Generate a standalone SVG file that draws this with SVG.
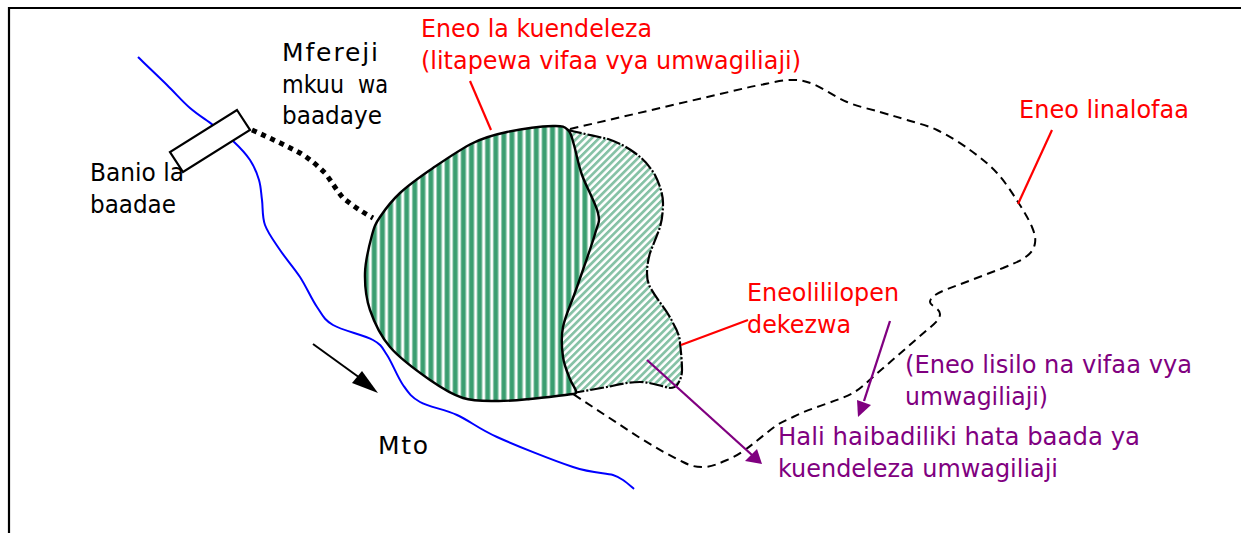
<svg xmlns="http://www.w3.org/2000/svg" width="1241" height="533" viewBox="0 0 1241 533">
<style>
text{font-family:"DejaVu Sans","Noto Sans",sans-serif;font-size:25px}
.r{fill:#ff0000}.p{fill:#800080}.k{fill:#000}
.rl{stroke:#ff0000;stroke-width:2.2;fill:none}
.pl{stroke:#800080;stroke-width:2.3;fill:none}
</style>
<defs>
<pattern id="vs" patternUnits="userSpaceOnUse" width="8.1" height="10" x="371.3">
<rect width="8.1" height="10" fill="#fff"/>
<rect width="6" height="10" fill="#9fd0b8"/>
<rect x="1" width="4" height="10" fill="#3a9e70"/>
</pattern>
<pattern id="ds" patternUnits="userSpaceOnUse" width="5.2" height="5.2" patternTransform="rotate(-45)">
<rect width="5.2" height="5.2" fill="#fff"/>
<rect width="5.2" height="2.7" fill="#86c2a6"/>
</pattern>
</defs>
<rect width="1241" height="533" fill="#fff"/>
<path id="frame" d="M9 533V8H1241" fill="none" stroke="#000" stroke-width="2.2"/>
<g id="river"><path d="M138 57C143 62 158.3 76.5 167 85C175.7 93.5 182.3 101.3 190 108C197.7 114.7 205.8 119.5 213 125C220.2 130.5 226.8 135.2 233 141C239.2 146.8 245.7 153.5 250 160C254.3 166.5 257 173.3 259 180C261 186.7 261 192.5 262 200C263 207.5 262 216.7 265 225C268 233.3 274.2 241.3 280 250C285.8 258.7 293.8 267.5 300 277C306.2 286.5 311.5 299 317 307C322.5 315 323.7 319.5 333 325C342.3 330.5 364 335 373 340C382 345 382 347.5 387 355C392 362.5 397.5 377.2 403 385C408.5 392.8 411 397 420 402C429 407 444.2 409.2 457 415C469.8 420.8 477.7 428.3 497 437C516.3 445.7 553.7 460.7 573 467C592.3 473.3 604.7 472.8 613 475C616.5 476 619.5 477.7 623 480C626.5 482.3 630 485.5 634 489" fill="none" stroke="#0000ff" stroke-width="2"/></g>
<g id="dam"><polygon points="237,110 250,130 183,172 170,152" fill="#fff" stroke="#000" stroke-width="2.2"/></g>
<g id="proposed-area"><path d="M568 130C580 133 595 136 608 139C620 143 628 148 635 153C645 160 650 167 655 175C660 185 663 195 663 203C663 212 662 220 660 227C657 236 653 245 650 253C648 260 647 267 647 273C647 279 648 283 650 287C657 300 667 310 673 323C677 330 680 337 680 343C681 352 682 362 682 370C682 376 680 381 677 385C675 388 672 388 670 388C660 386 650 382 640 382C628 382 617 385 607 387L573 393L550 345L550 200Z" fill="url(#ds)"/>
<path d="M568 130C580 133 595 136 608 139C620 143 628 148 635 153C645 160 650 167 655 175C660 185 663 195 663 203C663 212 662 220 660 227C657 236 653 245 650 253C648 260 647 267 647 273C647 279 648 283 650 287C657 300 667 310 673 323C677 330 680 337 680 343C681 352 682 362 682 370C682 376 680 381 677 385C675 388 672 388 670 388C660 386 650 382 640 382C628 382 617 385 607 387L573 393" fill="none" stroke="#000" stroke-width="2.2" stroke-dasharray="14 2 2 2"/></g>
<g id="development-area"><path d="M553 126C563.2 125.7 564.5 126.8 568 130C571.5 133.2 571.7 137.5 574 145C576.3 152.5 578 163.7 582 175C586 186.3 595.8 203.2 598 213C600.2 222.8 598.5 221.7 595 234C591.5 246.3 582.3 271.5 577 287C571.7 302.5 565.3 315.3 563 327C560.7 338.7 561.8 348.3 563 357C564.2 365.7 567.8 373.3 570 379C572.2 384.7 575.5 388.5 576 391C576.5 393.5 575 394 573 394C560 395.5 542.7 397.8 530 399C517.3 400.2 508 401.2 497 401C486 400.8 474.2 401.5 463 398C451.8 394.5 442.2 388.5 430 380C417.8 371.5 400 358.7 390 347C380 335.3 374.2 322.3 370 310C365.8 297.7 364.7 285.5 365 273C365.3 260.5 369.5 244.3 372 235C374.5 225.7 375.3 224 380 217C384.7 210 391.2 201.2 400 193C408.8 184.8 420.8 176.3 433 168C445.2 159.7 460.7 149 473 143C485.3 137 493.7 134.8 507 132C520.3 129.2 542.8 126.3 553 126Z" fill="url(#vs)" stroke="#000" stroke-width="2.4"/></g>
<g id="connectors">
<path d="M252 130C270 138 285 145 300 153C310 159 318 166 325 173C332 182 337 191 343 198C352 205 362 212 373 218" fill="none" stroke="#000" stroke-width="5" stroke-dasharray="5 5"/>
<path d="M570 129L733 91C750.8 86.8 750.5 86.8 760 85C769.5 83.2 781.2 80.2 790 80C798.8 79.8 803.5 80.3 813 84C822.5 87.7 835.8 97.3 847 102C858.2 106.7 870 109 880 112C890 115 897.5 117 907 120C916.5 123 926.5 125 937 130C947.5 135 960 142.8 970 150C980 157.2 989 164.3 997 173C1005 181.7 1012.2 193 1018 202C1023.8 211 1029.2 220.2 1032 227C1034.8 233.8 1035.8 238.2 1035 243C1034.2 247.8 1032.3 251.8 1027 256C1021.7 260.2 1016.7 262.3 1003 268L945 290C938 293 930 297 930 302C930 306 940 308 940 314C940 320 933 325 927 330L873 377C866 383 860 389 853 393C838 401 810 408 793 417C787 420 782 422 777 425C760 437 745 453 727 460C718 464 711 467 703 467C695 467 691 466 683 462C670 456 655 447 640 438L573 394" fill="none" stroke="#000" stroke-width="2" stroke-dasharray="8.5 5.5"/>
<path class="rl" d="M470 81L491 130"/>
<path class="rl" d="M1052 130L1018 204"/>
<path class="rl" d="M681 345L748 320"/>
<path class="pl" d="M890 321L864 401"/>
<polygon points="858,417 857,400 871,405" fill="#800080"/>
<path class="pl" d="M647 360L752 455"/>
<polygon points="762,464 745,461 757,449" fill="#800080"/>
<path d="M313 344L360 378" fill="none" stroke="#000" stroke-width="2"/>
<polygon points="378,393 352,383 362,371" fill="#000"/>
</g>
<g id="labels">
<text class="r" x="421" y="37" textLength="231" lengthAdjust="spacingAndGlyphs">Eneo la kuendeleza</text>
<text class="r" x="421" y="69" textLength="380" lengthAdjust="spacingAndGlyphs">(litapewa vifaa vya umwagiliaji)</text>
<text class="k" x="282" y="61" textLength="96">Mfereji</text>
<text class="k" x="282" y="93" textLength="62" lengthAdjust="spacingAndGlyphs">mkuu</text>
<text class="k" x="358" y="93" textLength="30" lengthAdjust="spacingAndGlyphs">wa</text>
<text class="k" x="282" y="124" textLength="100" lengthAdjust="spacingAndGlyphs">baadaye</text>
<text class="k" x="90" y="181" textLength="94" lengthAdjust="spacingAndGlyphs">Banio la</text>
<text class="k" x="90" y="213" textLength="86" lengthAdjust="spacingAndGlyphs">baadae</text>
<text class="k" x="378" y="454" textLength="50">Mto</text>
<text class="r" x="1019" y="118" textLength="170" lengthAdjust="spacingAndGlyphs">Eneo linalofaa</text>
<text class="r" x="747" y="301" textLength="152" lengthAdjust="spacingAndGlyphs">Eneolililopen</text>
<text class="r" x="747" y="333" textLength="104" lengthAdjust="spacingAndGlyphs">dekezwa</text>
<text class="p" x="905" y="373" textLength="287" lengthAdjust="spacingAndGlyphs">(Eneo lisilo na vifaa vya</text>
<text class="p" x="905" y="405" textLength="143" lengthAdjust="spacingAndGlyphs">umwagiliaji)</text>
<text class="p" x="778" y="445" textLength="362" lengthAdjust="spacingAndGlyphs">Hali haibadiliki hata baada ya</text>
<text class="p" x="778" y="477" textLength="280" lengthAdjust="spacingAndGlyphs">kuendeleza umwagiliaji</text>
</g>
</svg>
